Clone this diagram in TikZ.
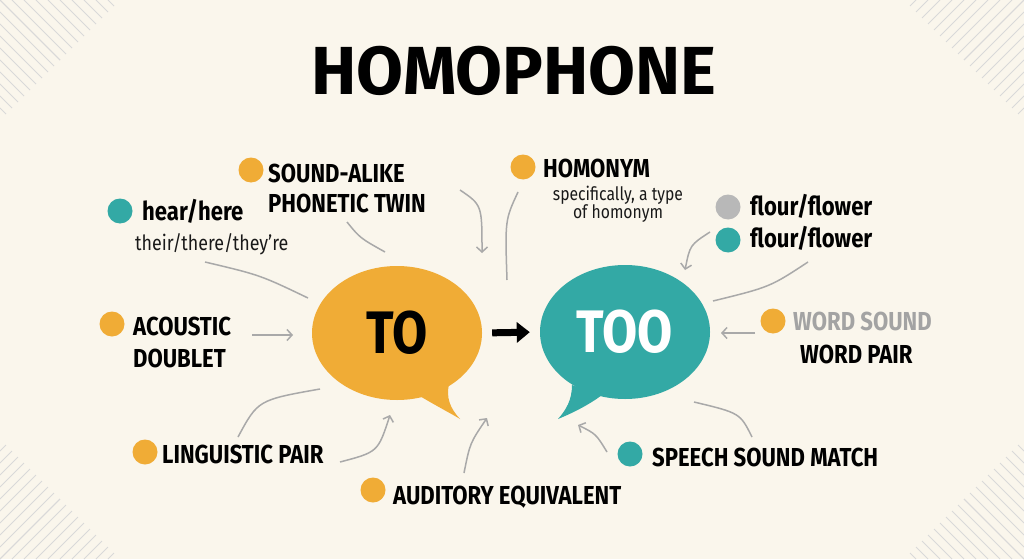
\documentclass[tikz,border=0pt]{standalone}
\usepackage{fontspec}
\setmainfont{Fira Sans}
\newfontfamily\condfont[FakeStretch=0.85]{Fira Sans}
\usetikzlibrary{arrows.meta,shapes.geometric}
\definecolor{bg}{HTML}{FAF6EC}
\definecolor{orng}{HTML}{F0AC36}
\definecolor{teal2}{HTML}{33A9A5}
\definecolor{conn}{HTML}{A9A9A9}
\definecolor{greytxt}{HTML}{A3A3A3}
\definecolor{dotgrey}{HTML}{B8B8B8}
\begin{document}
\begin{tikzpicture}[x=1pt,y=-1pt,
  dot/.style={circle,inner sep=0pt,minimum size=25pt,fill=#1},
  lbl/.style={anchor=base west,inner sep=0pt,font=\condfont\bfseries\fontsize{26}{26}\selectfont,text=black},
  smalltxt/.style={inner sep=0pt,font=\condfont\fontsize{21}{21}\selectfont,text=black!90},
  tinytxt/.style={anchor=base,inner sep=0pt,font=\condfont\fontsize{18.5}{18.5}\selectfont,text=black!90},
  conline/.style={draw=conn,line width=1.5pt},
  conarrow/.style={conline,-{Straight Barb[length=5pt,width=11pt]}},
  hatch/.style={draw=black!15,line width=0.8pt},
  bubble/.style={ellipse,inner sep=0pt,minimum width=170pt,minimum height=134pt,
    font=\condfont\bfseries\fontsize{60}{60}\selectfont}]
\useasboundingbox (0,0) rectangle (1024,559);
\fill[bg] (0,0) rectangle (1024,559);
% corner hatching
\foreach \s in {0,12,...,108} {
  \draw[hatch] (\s,0) -- ({\s+(120-\s)/2},{(120-\s)/2});
  \draw[hatch] (0,\s) -- ({(120-\s)/2},{\s+(120-\s)/2});
  \draw[hatch] ({1024-\s},0) -- ({1024-\s-(120-\s)/2},{(120-\s)/2});
  \draw[hatch] (1024,\s) -- ({1024-(120-\s)/2},{\s+(120-\s)/2});
  \draw[hatch] ({1024-\s},559) -- ({1024-\s-(120-\s)/2},{559-(120-\s)/2});
  \draw[hatch] (1024,{559-\s}) -- ({1024-(120-\s)/2},{559-\s-(120-\s)/2});
  \draw[hatch] (\s,559) -- ({\s+(120-\s)/2},{559-(120-\s)/2});
  \draw[hatch] (0,{559-\s}) -- ({(120-\s)/2},{559-\s-(120-\s)/2});
}
% title
\node[anchor=base,inner sep=0pt,font=\bfseries\fontsize{68}{68}\selectfont] (title) at (514,95) {HOMOPHONE};
% bubbles
\fill[orng] (418,395) .. controls (440,408) and (452,414) .. (460,419) .. controls (450,408) and (446,398) .. (449,384) -- cycle;
\node[bubble,fill=orng,text=black] (to) at (397,333) {TO};
\fill[teal2] (572,385) .. controls (572,400) and (566,410) .. (558,419) .. controls (575,412) and (590,404) .. (602,395) -- cycle;
\node[bubble,fill=teal2,text=white] (too) at (625,332) {TOO};
\draw[line width=7pt,shorten <=10pt,shorten >=10pt,-{Triangle[length=13pt,width=20pt]}] (to.east) -- (too.west);
% dots
\node[dot=orng] (d1) at (251,170) {};
\node[dot=teal2] (d2) at (120,211) {};
\node[dot=orng] (d3) at (523,167) {};
\node[dot=dotgrey] (d4) at (728,207) {};
\node[dot=teal2] (d5) at (728,240) {};
\node[dot=orng] (d6) at (112,324) {};
\node[dot=orng] (d7) at (773,321) {};
\node[dot=orng] (d8) at (145,452) {};
\node[dot=orng] (d9) at (373,490) {};
\node[dot=teal2] (d10) at (630,454) {};
% labels
\node[lbl] (t1a) at (268,182) {SOUND-ALIKE};
\node[lbl] (t1b) at (268,212) {PHONETIC TWIN};
\node[lbl] (t2a) at (142,220) {hear/here};
\node[smalltxt,anchor=base west] (t2b) at (135,250) {their/there/they’re};
\node[lbl] (t3a) at (543,177) {HOMONYM};
\node[tinytxt] (t3b) at (618,200) {specifically, a type};
\node[tinytxt] (t3c) at (618,218) {of homonym};
\node[lbl] (t4a) at (750,215) {flour/flower};
\node[lbl] (t4b) at (750,247) {flour/flower};
\node[lbl] (t5a) at (133,335) {ACOUSTIC};
\node[lbl] (t5b) at (133,367) {DOUBLET};
\node[lbl,text=greytxt] (t6a) at (793,330) {WORD SOUND};
\node[lbl] (t6b) at (800,363) {WORD PAIR};
\node[lbl] (t7) at (162,463) {LINGUISTIC PAIR};
\node[lbl] (t8) at (393,504) {AUDITORY EQUIVALENT};
\node[lbl] (t9) at (652,466) {SPEECH SOUND MATCH};
% connector end points
\coordinate (c1a) at (347,222); \coordinate (c1b) at (385,252);
\coordinate (c2a) at (205,262); \coordinate (c2b) at (308,298);
\coordinate (c3a) at (460,190); \coordinate (c3b) at (482,253);
\coordinate (c4a) at (518,192); \coordinate (c4b) at (507,280);
\coordinate (c5a) at (710,232); \coordinate (c5b) at (685,270);
\coordinate (c6a) at (808,262); \coordinate (c6b) at (713,301);
\coordinate (c7a) at (755,333); \coordinate (c7b) at (721,333);
\coordinate (c8a) at (694,402); \coordinate (c8b) at (752,437);
\coordinate (c9a) at (607,452); \coordinate (c9b) at (578,425);
\coordinate (c10a) at (464,473); \coordinate (c10b) at (487,418);
\coordinate (c11a) at (340,462); \coordinate (c11b) at (390,415);
\coordinate (c12a) at (238,437); \coordinate (c12b) at (320,389);
\coordinate (c13a) at (252,335); \coordinate (c13b) at (293,335);
% connectors
\draw[conline] (c1a) .. controls (360,238) .. (c1b);
\draw[conline] (c2a) .. controls (260,275) .. (c2b);
\draw[conarrow] (c3a) .. controls (482,205) .. (c3b);
\draw[conline] (c4a) .. controls (505,220) .. (c4b);
\draw[conarrow] (c5a) .. controls (690,245) .. (c5b);
\draw[conline] (c6a) .. controls (770,287) .. (c6b);
\draw[conarrow] (c7a) -- (c7b);
\draw[conline] (c8a) .. controls (740,413) .. (c8b);
\draw[conarrow] (c9a) .. controls (596,434) .. (c9b);
\draw[conarrow] (c10a) .. controls (470,443) .. (c10b);
\draw[conarrow] (c11a) .. controls (378,452) .. (c11b);
\draw[conline] (c12a) .. controls (258,400) .. (c12b);
\draw[conarrow] (c13a) -- (c13b);
\end{tikzpicture}
\end{document}
